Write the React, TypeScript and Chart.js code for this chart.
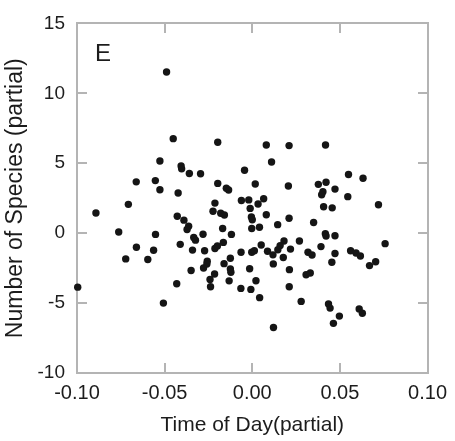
import React, { useEffect, useRef } from "react";
import { Chart, registerables } from "chart.js";

Chart.register(...registerables);

const panelLabel = "E";
const xAxisTitle = "Time of Day(partial)";
const yAxisTitle = "Number of Species (partial)";
const xTickValues = [-0.1, -0.05, 0, 0.05, 0.1];
const xTickLabels = ["-0.10", "-0.05", "0.00", "0.05", "0.10"];
const yTickValues = [-10, -5, 0, 5, 10, 15];
const yTickLabels = ["-10", "-5", "0", "5", "10", "15"];

const timeOfDayPartial = [
  -0.0489, -0.0451, -0.0197, 0.008, 0.021, 0.0418, -0.0527, 0.011, -0.0406, -0.0403,
  -0.0359, -0.0295, -0.0044, 0.0549, 0.0632, -0.0662, -0.0553, -0.0527, -0.0423, -0.0197,
  -0.0148, -0.0135, 0.0017, 0.0206, 0.0377, 0.0421, 0.0472, 0.0403, 0.0396, 0.0545,
  -0.0707, -0.0213, -0.0062, -0.002, 0.0065, 0.0033, -0.0012, 0.072, 0.0407, 0.0456,
  -0.0892, -0.0428, -0.039, -0.0363, -0.0372, -0.0762, -0.0552, -0.0661, -0.0563, -0.0722,
  -0.0596, -0.0411, -0.0334, -0.0324, -0.0281, -0.0341, -0.0272, -0.0224, -0.018, -0.0159,
  -0.0169, -0.0119, -0.0005, 0.0, -0.0003, 0.0041, 0.008, 0.021, 0.0145, 0.035,
  0.0417, 0.0421, 0.0472, 0.0269, 0.0758, 0.0051, 0.0181, 0.0159, 0.0146, 0.0218,
  0.0392, 0.0087, 0.0118, 0.0177, 0.0318, 0.0341, 0.0472, 0.0561, 0.0592, 0.0617,
  -0.0213, -0.0199, -0.0165, -0.0064, -0.0003, 0.0012, -0.0349, -0.0278, -0.0257, -0.0259,
  -0.0161, -0.0125, -0.0125, -0.0122, -0.0015, 0.012, 0.0212, 0.0307, 0.0331, 0.0454,
  0.0669, 0.0704, -0.0215, -0.0241, -0.0238, -0.0132, 0.0021, -0.0065, -0.0008, 0.0042,
  0.0211, 0.0279, 0.0435, 0.0444, 0.0497, 0.0463, 0.061, 0.0628, 0.0121, -0.0996,
  -0.0431, -0.0507,
];

const speciesPartial = [
  11.52, 6.76, 6.5, 6.3, 6.26, 6.3, 5.16, 5.09, 4.8, 4.6,
  4.27, 4.25, 4.5, 4.2, 3.93, 3.67, 3.76, 3.1, 2.87, 3.56,
  3.21, 3.09, 3.52, 3.37, 3.49, 3.64, 3.15, 2.97, 2.75, 2.61,
  2.06, 2.15, 2.34, 2.38, 2.46, 2.08, 1.77, 2.03, 1.89, 1.81,
  1.44, 1.21, 0.93, 0.5, 0.26, 0.08, -0.09, -1.01, -1.22, -1.84,
  -1.88, -0.8, -0.31, -0.5, -0.08, -1.21, -1.26, 1.57, 1.42, 1.3,
  0.33, -0.09, 1.16, 0.96, 0.33, 0.42, 1.32, 1.07, 0.61, 0.76,
  -0.04, -0.2, -0.18, -0.56, -0.75, -0.85, -0.56, -0.89, -1.19, -1.14,
  -0.96, -1.29, -1.55, -1.74, -1.36, -1.56, -1.45, -1.26, -1.42, -1.63,
  -1.1, -0.91, -0.66, -1.37, -1.36, -1.26, -2.67, -2.49, -2.01, -2.21,
  -2.18, -1.79, -2.56, -2.8, -2.54, -2.2, -2.61, -2.97, -2.85, -2.08,
  -2.32, -2.04, -2.92, -3.31, -3.83, -3.41, -3.4, -3.95, -4.02, -4.61,
  -3.83, -4.88, -5.06, -5.36, -5.93, -6.45, -5.42, -5.73, -6.75, -3.86,
  -3.62, -5.0,
];

const FONT = "'Liberation Sans', Arial, sans-serif";
const AXIS_COLOR = "#b4b4b4";
const TEXT_COLOR = "#1c1c1c";

const boxPlugin = {
  id: "boxAndInwardTicks",
  beforeDatasetsDraw(chart: any) {
    const { ctx, chartArea, scales } = chart;
    const left = Math.round(chartArea.left);
    const right = Math.round(chartArea.right);
    const top = Math.round(chartArea.top);
    const bottom = Math.round(chartArea.bottom);
    const tickLen = 10;
    const w = 2;
    ctx.save();
    ctx.globalAlpha = 1;
    ctx.fillStyle = AXIS_COLOR;
    // frame
    ctx.fillRect(left - 1, top - 1, right - left + 2, w);
    ctx.fillRect(left - 1, bottom - 1, right - left + 2, w);
    ctx.fillRect(left - 1, top - 1, w, bottom - top + 2);
    ctx.fillRect(right - 1, top - 1, w, bottom - top + 2);
    // inward ticks
    xTickValues.forEach((v) => {
      const px = Math.round(scales.x.getPixelForValue(v));
      ctx.fillRect(px - 1, bottom - tickLen, w, tickLen);
      ctx.fillRect(px - 1, top, w, tickLen);
    });
    yTickValues.forEach((v) => {
      const py = Math.round(scales.y.getPixelForValue(v));
      ctx.fillRect(left, py - 1, tickLen, w);
      ctx.fillRect(right - tickLen, py - 1, tickLen, w);
    });
    ctx.fillStyle = TEXT_COLOR;
    ctx.font = `24px ${FONT}`;
    ctx.textAlign = "left";
    ctx.textBaseline = "alphabetic";
    ctx.fillText(panelLabel, left + 18, top + 38);
    ctx.restore();
  },
};

export default function App() {
  const canvasRef = useRef<HTMLCanvasElement | null>(null);

  useEffect(() => {
    if (!canvasRef.current) return;
    const points = timeOfDayPartial.map((x, i) => ({ x, y: speciesPartial[i] }));
    const chart = new Chart(canvasRef.current, {
      type: "scatter",
      data: {
        datasets: [
          {
            data: points,
            backgroundColor: "#151515",
            borderWidth: 0,
            pointRadius: 3.7,
            pointHoverRadius: 3.7,
            clip: false as any,
          },
        ],
      },
      options: {
        animation: false,
        responsive: true,
        maintainAspectRatio: false,
        layout: { padding: { left: 0, top: 19, right: 23, bottom: 0 } },
        plugins: { legend: { display: false }, tooltip: { enabled: false } },
        scales: {
          x: {
            type: "linear",
            min: -0.1,
            max: 0.1,
            grid: { display: false, drawTicks: false, tickLength: 0 },
            border: { display: false },
            afterBuildTicks: (scale: any) => {
              scale.ticks = xTickValues.map((v) => ({ value: v }));
            },
            afterFit: (scale: any) => {
              scale.height = 68;
            },
            ticks: {
              padding: 8,
              color: TEXT_COLOR,
              font: { family: FONT, size: 20 },
              maxRotation: 0,
              callback: (_v: any, i: number) => xTickLabels[i],
            },
            title: {
              display: true,
              text: xAxisTitle,
              color: TEXT_COLOR,
              font: { family: FONT, size: 21 },
              padding: { top: 0, bottom: 3 },
            },
          },
          y: {
            type: "linear",
            min: -10,
            max: 15,
            grid: { display: false, drawTicks: false, tickLength: 0 },
            border: { display: false },
            afterBuildTicks: (scale: any) => {
              scale.ticks = yTickValues.map((v) => ({ value: v }));
            },
            afterFit: (scale: any) => {
              scale.width = 77;
            },
            ticks: {
              padding: 12,
              color: TEXT_COLOR,
              font: { family: FONT, size: 19 },
              callback: (_v: any, i: number) => yTickLabels[i],
            },
            title: {
              display: true,
              text: yAxisTitle,
              color: TEXT_COLOR,
              font: { family: FONT, size: 23 },
              padding: { top: 2, bottom: 0 },
            },
          },
        },
      },
      plugins: [boxPlugin],
    });
    return () => chart.destroy();
  }, []);

  return (
    <div style={{ position: "absolute", left: 0, top: 0, width: 455, height: 441, background: "#fff" }}>
      <canvas ref={canvasRef} />
    </div>
  );
}
